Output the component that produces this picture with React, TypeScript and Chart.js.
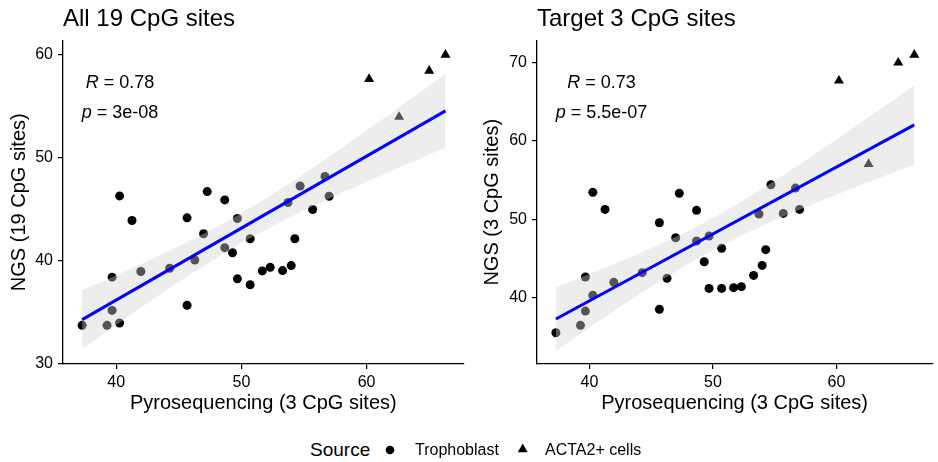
import React, { useEffect, useRef } from "react";
import { Chart, registerables } from "chart.js";

Chart.register(...registerables);

const FONT = "'Liberation Sans', Arial, Helvetica, sans-serif";

// Pyrosequencing (3 CpG sites) — x values shared by both panels
const pyroTrophoblast = [
  37.28, 39.27, 39.67, 40.27, 39.67, 40.27, 41.26, 41.97, 44.27, 45.66, 45.66,
  46.28, 46.98, 47.27, 48.67, 48.67, 49.29, 49.68, 49.68, 50.7, 50.7, 51.67,
  52.3, 53.29, 53.72, 53.98, 54.27, 54.69, 55.69, 56.68, 57.01,
];
const pyroActa2 = [60.2, 62.6, 65.0, 66.3];

// NGS (19 CpG sites)
const ngs19Trophoblast = [
  33.71, 33.71, 35.16, 33.94, 38.39, 46.29, 43.9, 38.94, 39.26, 44.16, 35.65,
  40.06, 42.61, 46.71, 45.9, 41.26, 40.77, 44.1, 38.23, 42.13, 37.65, 39.0,
  39.35, 39.03, 45.65, 39.52, 42.13, 47.26, 44.97, 48.19, 46.26,
];
const ngs19Acta2 = [57.65, 53.97, 58.45, 60.0];

// NGS (3 CpG sites)
const ngs3Trophoblast = [
  35.47, 36.41, 38.24, 40.25, 42.59, 53.42, 51.24, 41.91, 43.15, 49.54, 38.46,
  42.42, 47.62, 53.29, 51.12, 47.2, 44.55, 47.83, 41.14, 46.26, 41.14, 41.23,
  41.36, 42.8, 50.65, 44.08, 46.09, 54.4, 50.73, 53.97, 51.24,
];
const ngs3Acta2 = [67.7, 57.04, 70.0, 71.0];

const xTicks = [40, 50, 60];
const yTicks19 = [30, 40, 50, 60];
const yTicks3 = [40, 50, 60, 70];

const panelTitles = ["All 19 CpG sites", "Target 3 CpG sites"];
const xTitle = "Pyrosequencing (3 CpG sites)";
const yTitles = ["NGS (19 CpG sites)", "NGS (3 CpG sites)"];
const corR = ["0.78", "0.73"];
const corP = ["3e-08", "5.5e-07"];
const legendTitle = "Source";
const legendLabels = ["Trophoblast", "ACTA2+ cells"];

// linear model fit with 95% confidence band (as geom_smooth(method = "lm"))
function lmBand(xs: number[], ys: number[], nPts = 80) {
  const n = xs.length;
  const mx = xs.reduce((a, b) => a + b, 0) / n;
  const my = ys.reduce((a, b) => a + b, 0) / n;
  let sxx = 0,
    sxy = 0;
  for (let i = 0; i < n; i++) {
    sxx += (xs[i] - mx) ** 2;
    sxy += (xs[i] - mx) * (ys[i] - my);
  }
  const b = sxy / sxx;
  const a = my - b * mx;
  let sse = 0;
  for (let i = 0; i < n; i++) sse += (ys[i] - a - b * xs[i]) ** 2;
  const s = Math.sqrt(sse / (n - 2));
  const t = 2.0345; // qt(0.975, 33)
  const xmin = Math.min(...xs);
  const xmax = Math.max(...xs);
  const upper: { x: number; y: number }[] = [];
  const lower: { x: number; y: number }[] = [];
  for (let k = 0; k < nPts; k++) {
    const x0 = xmin + ((xmax - xmin) * k) / (nPts - 1);
    const yhat = a + b * x0;
    const se = s * Math.sqrt(1 / n + (x0 - mx) ** 2 / sxx);
    upper.push({ x: x0, y: yhat + t * se });
    lower.push({ x: x0, y: yhat - t * se });
  }
  const line = [
    { x: xmin, y: a + b * xmin },
    { x: xmax, y: a + b * xmax },
  ];
  return { line, upper, lower };
}

const corPlugin = {
  id: "corLabel",
  afterDatasetsDraw(chart: any, _args: any, opts: any) {
    const { ctx, scales } = chart;
    const cx = scales.x.getPixelForValue(opts.x);
    const drawLine = (ital: string, rest: string, yVal: number) => {
      const y = scales.y.getPixelForValue(yVal);
      const fi = `italic 18px ${FONT}`;
      const fn = `18px ${FONT}`;
      ctx.save();
      ctx.font = fi;
      const w1 = ctx.measureText(ital).width;
      ctx.font = fn;
      const w2 = ctx.measureText(rest).width;
      const start = cx - (w1 + w2) / 2;
      ctx.textBaseline = "alphabetic";
      ctx.textAlign = "left";
      ctx.fillStyle = "#000";
      ctx.font = fi;
      ctx.fillText(ital, start, y);
      ctx.font = fn;
      ctx.fillText(rest, start + w1, y);
      ctx.restore();
    };
    drawLine("R", " = " + opts.r, opts.yR);
    drawLine("p", " = " + opts.p, opts.yP);
  },
};

function makeConfig(
  xsC: number[],
  ysC: number[],
  xsT: number[],
  ysT: number[],
  yMin: number,
  yMax: number,
  yTicks: number[],
  yTitle: string,
  yTitlePad: number,
  yAxisWidth: number,
  padRight: number,
  cor: { x: number; yR: number; yP: number; r: string; p: string }
) {
  const fit = lmBand([...xsC, ...xsT], [...ysC, ...ysT]);
  const bandFill = "rgba(211,211,211,0.4)";
  return {
    type: "scatter" as const,
    data: {
      datasets: [
        {
          type: "line",
          data: fit.line,
          borderColor: "#0000ff",
          borderWidth: 3,
          pointRadius: 0,
          fill: false,
          order: 0,
        },
        {
          type: "line",
          data: fit.upper,
          borderColor: "transparent",
          borderWidth: 0,
          pointRadius: 0,
          backgroundColor: bandFill,
          fill: "+1",
          order: 1,
        },
        {
          type: "line",
          data: fit.lower,
          borderColor: "transparent",
          borderWidth: 0,
          pointRadius: 0,
          fill: false,
          order: 1,
        },
        {
          label: legendLabels[0],
          data: xsC.map((x, i) => ({ x, y: ysC[i] })),
          pointStyle: "circle",
          pointRadius: 4.5,
          backgroundColor: "#000",
          borderWidth: 0,
          order: 2,
        },
        {
          label: legendLabels[1],
          data: xsT.map((x, i) => ({ x, y: ysT[i] })),
          pointStyle: "triangle",
          pointRadius: 5.8,
          backgroundColor: "#000",
          borderWidth: 0,
          order: 2,
        },
      ],
    },
    options: {
      animation: false,
      responsive: false,
      events: [],
      layout: { padding: { top: 40.5, right: padRight, left: 0, bottom: 0 } },
      plugins: {
        legend: { display: false },
        tooltip: { enabled: false },
        title: { display: false },
        corLabel: cor,
      },
      scales: {
        x: {
          type: "linear",
          min: 35.75,
          max: 67.75,
          afterBuildTicks: (s: any) => {
            s.ticks = xTicks.map((v) => ({ value: v }));
          },
          afterFit: (s: any) => {
            s.height = 61;
          },
          ticks: {
            font: { family: FONT, size: 16 },
            color: "#000",
            padding: 4,
            maxRotation: 0,
            autoSkip: false,
          },
          grid: {
            drawOnChartArea: false,
            drawTicks: true,
            tickLength: 5,
            color: "#000",
            lineWidth: 1.2,
          },
          border: { display: true, color: "#000", width: 1.3 },
          title: {
            display: true,
            text: xTitle,
            font: { family: FONT, size: 20 },
            color: "#000",
            padding: { top: 0, bottom: 10 },
          },
        },
        y: {
          type: "linear",
          min: yMin,
          max: yMax,
          afterBuildTicks: (s: any) => {
            s.ticks = yTicks.map((v) => ({ value: v }));
          },
          afterFit: (s: any) => {
            s.width = yAxisWidth;
          },
          ticks: {
            font: { family: FONT, size: 16 },
            color: "#000",
            padding: 5,
            autoSkip: false,
          },
          grid: {
            drawOnChartArea: false,
            drawTicks: true,
            tickLength: 5,
            color: "#000",
            lineWidth: 1.2,
          },
          border: { display: true, color: "#000", width: 1.3 },
          title: {
            display: true,
            text: yTitle,
            font: { family: FONT, size: 20 },
            color: "#000",
            padding: { top: yTitlePad, bottom: 0 },
          },
        },
      },
    },
    plugins: [corPlugin],
  };
}

export default function App() {
  const leftRef = useRef<HTMLCanvasElement | null>(null);
  const rightRef = useRef<HTMLCanvasElement | null>(null);

  useEffect(() => {
    document.body.style.margin = "0";
    const left = new Chart(
      leftRef.current as HTMLCanvasElement,
      makeConfig(
        pyroTrophoblast,
        ngs19Trophoblast,
        pyroActa2,
        ngs19Acta2,
        29.95,
        61.4,
        yTicks19,
        yTitles[0],
        7,
        63,
        6.4,
        { x: 40.3, yR: 56.76, yP: 53.85, r: corR[0], p: corP[0] }
      ) as any
    );
    const right = new Chart(
      rightRef.current as HTMLCanvasElement,
      makeConfig(
        pyroTrophoblast,
        ngs3Trophoblast,
        pyroActa2,
        ngs3Acta2,
        31.47,
        72.84,
        yTicks3,
        yTitles[1],
        10,
        67,
        0,
        { x: 40.97, yR: 66.73, yP: 62.89, r: corR[1], p: corP[1] }
      ) as any
    );
    return () => {
      left.destroy();
      right.destroy();
    };
  }, []);

  const titleStyle: React.CSSProperties = {
    position: "absolute",
    top: 6.4,
    fontSize: 24,
    lineHeight: "24px",
    fontFamily: FONT,
    color: "#000",
    whiteSpace: "nowrap",
  };
  const legendText: React.CSSProperties = {
    position: "absolute",
    fontFamily: FONT,
    color: "#000",
    whiteSpace: "nowrap",
  };

  return (
    <div
      style={{
        position: "absolute",
        left: 0,
        top: 0,
        width: 938,
        height: 462,
        overflow: "hidden",
        background: "#fff",
      }}
    >
      <canvas
        ref={leftRef}
        width={470}
        height={425}
        style={{ position: "absolute", left: 0, top: 0 }}
      />
      <canvas
        ref={rightRef}
        width={468}
        height={425}
        style={{ position: "absolute", left: 470, top: 0 }}
      />
      <div style={{ ...titleStyle, left: 63 }}>{panelTitles[0]}</div>
      <div style={{ ...titleStyle, left: 537 }}>{panelTitles[1]}</div>

      <div style={{ ...legendText, left: 310, top: 440, fontSize: 19, lineHeight: "19px" }}>
        {legendTitle}
      </div>
      <svg
        width={938}
        height={462}
        style={{ position: "absolute", left: 0, top: 0, pointerEvents: "none" }}
      >
        <circle cx={390} cy={450} r={4.3} fill="#000" />
        <polygon points="522.7,443.5 527.7,452.2 517.7,452.2" fill="#000" />
      </svg>
      <div style={{ ...legendText, left: 415, top: 441.5, fontSize: 16, lineHeight: "16px" }}>
        {legendLabels[0]}
      </div>
      <div style={{ ...legendText, left: 545, top: 441.5, fontSize: 16, lineHeight: "16px" }}>
        {legendLabels[1]}
      </div>
    </div>
  );
}
